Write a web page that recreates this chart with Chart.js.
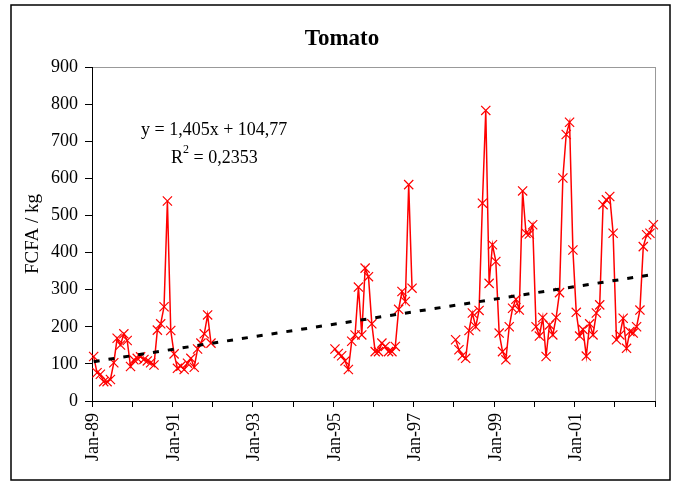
<!DOCTYPE html>
<html>
<head>
<meta charset="utf-8">
<script src="https://cdn.jsdelivr.net/npm/chart.js@4.4.0/dist/chart.umd.min.js"></script>
<style>
  html, body { margin: 0; padding: 0; background: #fff; }
  #wrap { width: 681px; height: 482px; }
</style>
</head>
<body>
<div id="wrap"><canvas id="chart"></canvas></div>
<script>
// monthly tomato prices, FCFA / kg (gaps = no survey)
const years = [1989, 1990, 1991, 1992, 1993, 1994, 1995, 1996, 1997, 1998, 1999, 2000, 2001, 2002]
const monthNames = ['Jan', 'Feb', 'Mar', 'Apr', 'May', 'Jun', 'Jul', 'Aug', 'Sep', 'Oct', 'Nov', 'Dec']

const p1989 = [120, 76, 72, 52, 52, 58, 103, 169, 151, 181, 163, 93]
const p1990 = [111, 115, 119, 112, 108, 103, 97, 191, 208, 254, 539, 190]
const p1991 = [127, 88, 94, 85, 102, 115, 91, 140, 156, 181, 232, 156]
const p1992 = [null, null, null, null, null, null, null, null, null, null, null, null]
const p1993 = [null, null, null, null, null, null, null, null, null, null, null, null]
const p1994 = [null, null, null, null, null, null, null, null, null, null, null, null]
const p1995 = [140, 128, 122, 108, 85, 161, 178, 307, 178, 358, 335, 208]
const p1996 = [133, 133, 156, 147, 133, 133, 147, 247, 295, 268, 583, 304]
const p1997 = [null, null, null, null, null, null, null, null, null, null, null, null]
const p1998 = [165, 138, 122, 115, 190, 237, 200, 244, 533, 783, 317, 421]
const p1999 = [376, 183, 133, 111, 200, 250, 274, 245, 566, 452, 450, 475]
const p2000 = [200, 175, 225, 120, 205, 178, 225, 292, 601, 718, 751, 407]
const p2001 = [239, 175, 193, 121, 208, 178, 237, 259, 529, 542, 551, 452]
const p2002 = [165, 178, 223, 142, 187, 183, 200, 245, 416, 448, 452, 475]

// linear trend y = 1,405x + 104,77 read at first and last month
const trendStart = 106
const trendEnd = 341
const equationText = 'y = 1,405x + 104,77'
const r2Text = ' = 0,2353'

const labels = []
years.forEach(y => monthNames.forEach(m => labels.push(m + '-' + String(y).slice(2))))
const prices = [].concat(p1989, p1990, p1991, p1992, p1993, p1994, p1995, p1996,
  p1997, p1998, p1999, p2000, p2001, p2002)

const serif = "'Liberation Serif', 'Times New Roman', serif"

const chartDecor = {
  id: 'chartDecor',
  beforeDraw (chart) {
    const { ctx, chartArea: a } = chart
    ctx.save()
    ctx.fillStyle = '#fff'
    ctx.fillRect(0, 0, chart.width, chart.height)
    ctx.strokeStyle = '#000'
    ctx.lineWidth = 1.5
    ctx.strokeRect(11, 5, 659, 475)
    ctx.strokeStyle = '#999'
    ctx.lineWidth = 1
    ctx.strokeRect(a.left + 0.5, a.top + 0.5, a.right - a.left, a.bottom - a.top)
    ctx.restore()
  },
  afterDraw (chart) {
    const { ctx, chartArea: a } = chart
    ctx.save()
    ctx.fillStyle = '#000'
    ctx.textBaseline = 'middle'
    // title
    ctx.font = 'bold 23px ' + serif
    ctx.textAlign = 'center'
    ctx.fillText('Tomato', 342, 39)
    // trend equation
    ctx.textAlign = 'left'
    ctx.font = '18px ' + serif
    ctx.fillText(equationText, a.left + 49, a.top + 63)
    const rx = a.left + 79
    const ry = a.top + 91
    ctx.fillText('R', rx, ry)
    const rw = ctx.measureText('R').width
    ctx.font = '12px ' + serif
    ctx.fillText('2', rx + rw, ry - 8)
    const sw = ctx.measureText('2').width
    ctx.font = '18px ' + serif
    ctx.fillText(r2Text, rx + rw + sw, ry)
    ctx.restore()
  }
}

new Chart(document.getElementById('chart'), {
  type: 'line',
  data: {
    labels: labels,
    datasets: [
      {
        label: 'Trend',
        data: [{ x: labels[0], y: trendStart }, { x: labels[labels.length - 1], y: trendEnd }],
        borderColor: '#000',
        borderWidth: 3,
        borderDash: [6, 9],
        pointRadius: 0,
        order: 0
      },
      {
        label: 'Tomato',
        data: prices,
        borderColor: '#ff0000',
        borderWidth: 1.5,
        pointStyle: 'crossRot',
        pointRadius: 6.5,
        pointBorderWidth: 1.2,
        pointBorderColor: '#ff0000',
        pointBackgroundColor: '#ff0000',
        spanGaps: false,
        tension: 0,
        order: 1
      }
    ]
  },
  options: {
    responsive: true,
    maintainAspectRatio: false,
    animation: false,
    layout: { padding: { left: 12, right: 22, top: 67, bottom: 0 } },
    plugins: {
      legend: { display: false },
      tooltip: { enabled: false },
      title: { display: false }
    },
    scales: {
      x: {
        type: 'category',
        offset: true,
        border: { color: '#000', width: 1 },
        grid: {
          offset: true,
          drawOnChartArea: false,
          tickLength: 6,
          color: ctx => (ctx.index === undefined || ctx.index % 12 === 0) ? '#000' : 'rgba(0,0,0,0)'
        },
        ticks: {
          autoSkip: false,
          maxRotation: 90,
          minRotation: 90,
          padding: 6,
          color: '#000',
          font: { family: serif, size: 18 },
          callback (value, index) {
            return index % 24 === 0 ? this.getLabelForValue(value) : ''
          }
        },
        afterFit (scale) { scale.height = 81 }
      },
      y: {
        min: 0,
        max: 900,
        border: { color: '#000', width: 1 },
        grid: { drawOnChartArea: false, tickLength: 7, color: '#000' },
        ticks: {
          stepSize: 100,
          padding: 7,
          color: '#000',
          font: { family: serif, size: 18 }
        },
        title: {
          display: true,
          text: 'FCFA / kg',
          color: '#000',
          font: { family: serif, size: 19 },
          padding: { top: 10, bottom: 0 }
        },
        afterFit (scale) { scale.width = 80 }
      }
    }
  },
  plugins: [chartDecor]
})
</script>
</body>
</html>
